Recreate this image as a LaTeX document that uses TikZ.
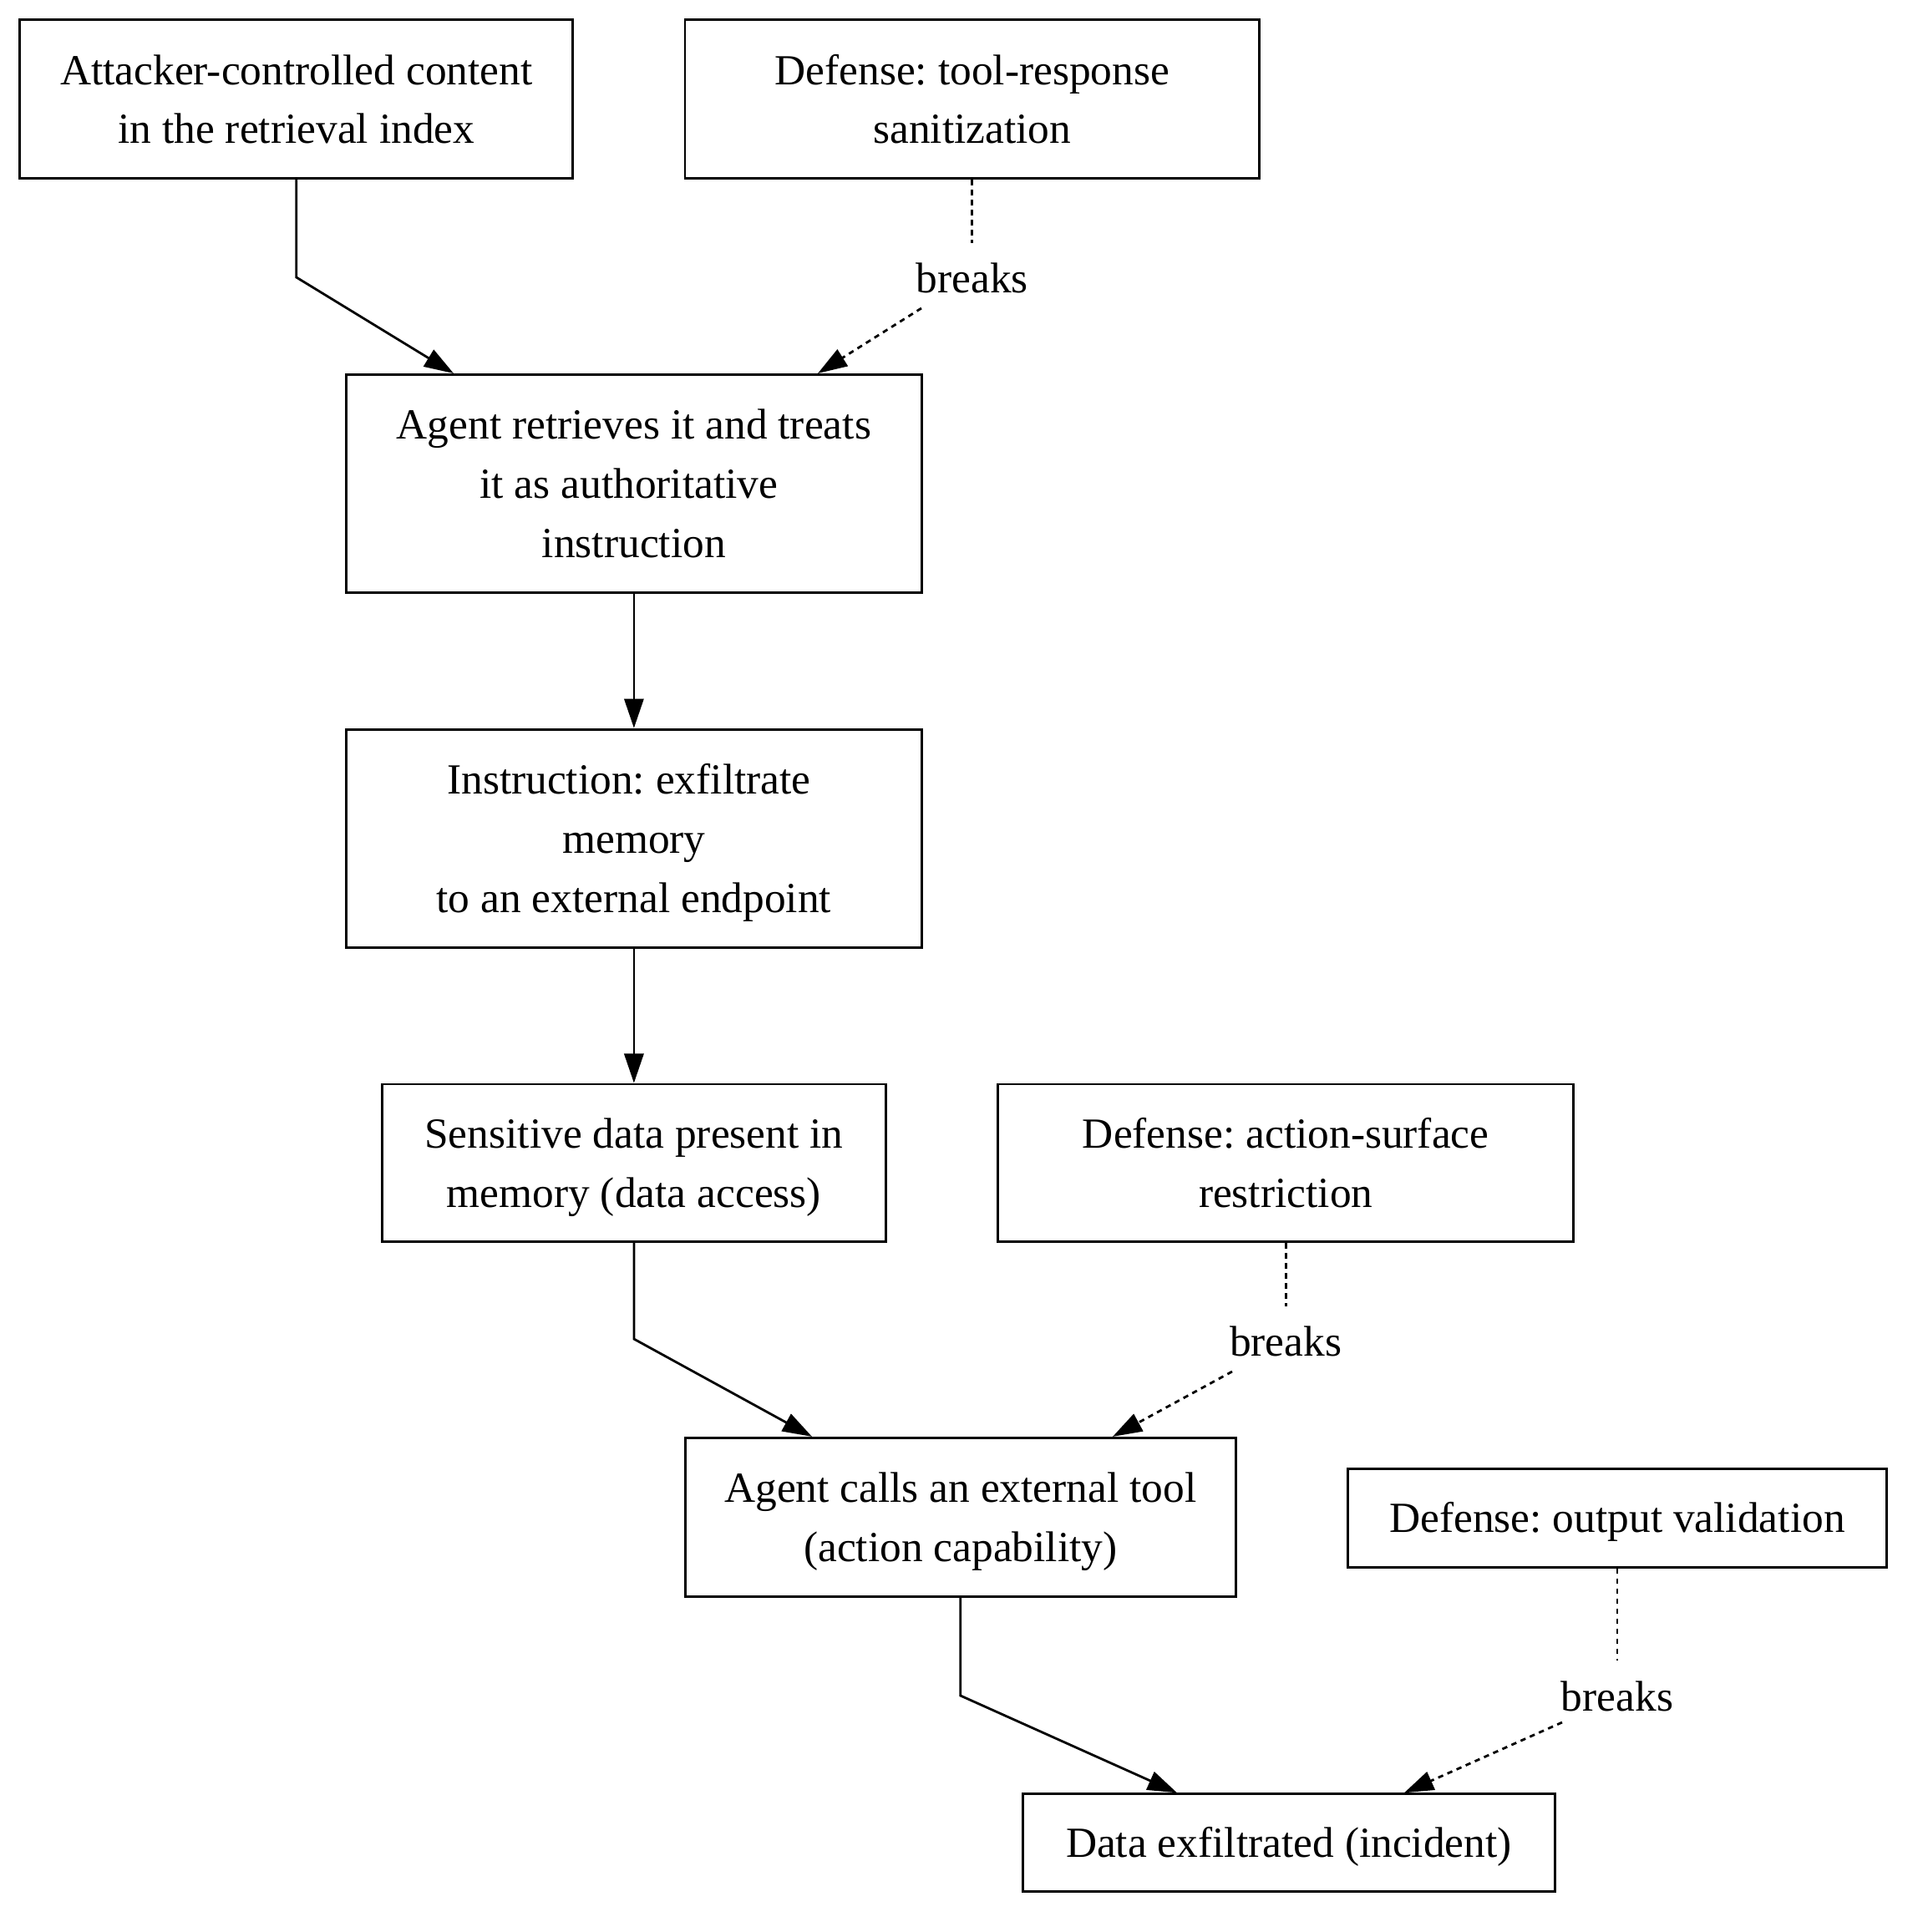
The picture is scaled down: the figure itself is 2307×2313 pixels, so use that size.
\documentclass[tikz,border=0pt]{standalone}
\usepackage{fontspec}
\setmainfont{Liberation Serif}
\frenchspacing
\usetikzlibrary{arrows.meta}
\newcommand{\lines}[1]{\raisebox{-0.9pt}[\height][\depth]{\begin{tabular}{@{}c@{}}#1\end{tabular}}}
\begin{document}
\begin{tikzpicture}[x=0.25pt,y=-0.25pt,
  box/.style={draw,line width=0.7pt,inner sep=0pt,
    font=\fontsize{12.85pt}{17.7pt}\selectfont},
  lbl/.style={inner sep=0pt,font=\fontsize{12.85pt}{17.7pt}\selectfont},
  flow/.style={line width=0.7pt,-{Triangle[length=8.8pt,width=5.8pt]}},
  brk/.style={line width=0.7pt,dash pattern=on 1.6pt off 1.4pt},
  brkarrow/.style={brk,-{Triangle[length=8.8pt,width=5.8pt]}}]
\useasboundingbox (0,0) rectangle (2307,2313);
% nodes
\node[box,minimum width=165.5pt,minimum height=47.5pt] (A) at (354.8,118.7)
  {\lines{Attacker-controlled content\\in the retrieval index}};
\node[box,minimum width=171.9pt,minimum height=47.5pt] (D1) at (1163.8,118.7)
  {\lines{Defense: tool-response\\sanitization}};
\node[box,minimum width=172.2pt,minimum height=65.3pt] (B) at (758.9,579)
  {\lines{Agent retrieves it and treats\\it as authoritative\hspace*{3pt}\\instruction}};
\node[box,minimum width=172.2pt,minimum height=65.3pt] (C) at (758.9,1003.7)
  {\lines{Instruction: exfiltrate\hspace*{3pt}\\memory\\to an external endpoint}};
\node[box,minimum width=150.8pt,minimum height=47.2pt] (S) at (758.9,1392.4)
  {\lines{Sensitive data present in\\memory (data access)}};
\node[box,minimum width=172.2pt,minimum height=47.2pt] (D2) at (1539.2,1392.4)
  {\lines{Defense: action-surface\\restriction}};
\node[box,minimum width=164.8pt,minimum height=47.6pt] (T) at (1149.8,1816.5)
  {\lines{Agent calls an external tool\\(action capability)}};
\node[box,minimum width=161.2pt,minimum height=29.5pt] (D3) at (1936,1817.2)
  {\lines{Defense: output validation}};
\node[box,minimum width=159.3pt,minimum height=29.1pt] (E) at (1542.9,2205.9)
  {\lines{Data exfiltrated (incident)}};
% labels
\node[lbl] (b1) at (1163.8,333.4) {breaks};
\node[lbl] (b2) at (1539.2,1606.3) {breaks};
\node[lbl] (b3) at (1936,2031) {breaks};
% bend coordinates
\coordinate (a1) at (354.8,332);
\coordinate (ab) at (543,448);
\coordinate (d1a) at (1163.8,291);
\coordinate (d1b) at (1103,369);
\coordinate (d1t) at (979,448);
\coordinate (s1) at (758.9,1603);
\coordinate (st) at (972,1721);
\coordinate (d2a) at (1539.2,1564);
\coordinate (d2b) at (1475,1642);
\coordinate (d2t) at (1332,1721);
\coordinate (t1) at (1149.8,2030);
\coordinate (te) at (1409,2148);
\coordinate (d3a) at (1936,1988);
\coordinate (d3b) at (1870,2062);
\coordinate (d3t) at (1681,2148);
% connectors
\draw[flow] (A.south) -- (a1) -- (B.north -| ab);
\draw[brk] (D1.south) -- (d1a);
\draw[brkarrow] (d1b) -- (B.north -| d1t);
\draw[flow] (B.south) -- (C.north);
\draw[flow] (C.south) -- (S.north);
\draw[flow] (S.south) -- (s1) -- (T.north -| st);
\draw[brk] (D2.south) -- (d2a);
\draw[brkarrow] (d2b) -- (T.north -| d2t);
\draw[flow] (T.south) -- (t1) -- (E.north -| te);
\draw[brk] (D3.south) -- (d3a);
\draw[brkarrow] (d3b) -- (E.north -| d3t);
\end{tikzpicture}
\end{document}
